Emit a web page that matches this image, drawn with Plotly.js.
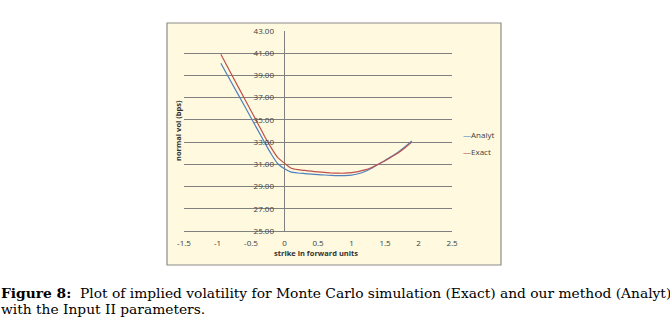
<!DOCTYPE html>
<html><head><meta charset="utf-8">
<script src="https://cdn.plot.ly/plotly-3.0.1.min.js"></script>
<style>html,body{margin:0;padding:0;background:#fff;}#chart{width:670px;height:322px;}</style>
</head><body><div id="chart"></div>
<script>
const strikes = [-0.95,-0.8,-0.6,-0.4,-0.3,-0.2,-0.1,0,0.1,0.2,0.3,0.4,0.5,0.6,0.7,0.8,0.9,1.0,1.1,1.2,1.3,1.4,1.5,1.6,1.7,1.8,1.9];
const analyt = [40.1,38.45,36.3,34.1,33.0,31.95,31.05,30.6,30.3,30.22,30.17,30.12,30.08,30.04,30.0,29.98,29.98,30.03,30.15,30.35,30.65,31.0,31.35,31.73,32.12,32.58,33.1];
const exact  = [40.9,39.2,36.95,34.7,33.55,32.5,31.6,31.1,30.65,30.52,30.45,30.38,30.32,30.27,30.22,30.2,30.2,30.25,30.35,30.5,30.72,31.0,31.32,31.68,32.05,32.5,33.0];
const yTicks = [25,27,29,31,33,35,37,39,41,43];
const xTicks = [-1.5,-1,-0.5,0,0.5,1,1.5,2,2.5];
const seriesNames = ['Analyt','Exact'];
const colors = ['#4F81BD','#C0504D'];

const traces = [
  {x: strikes, y: analyt, name: seriesNames[0], type:'scatter', mode:'lines', line:{color:colors[0], width:1.2, shape:'spline', smoothing:0.6}},
  {x: strikes, y: exact, name: seriesNames[1], type:'scatter', mode:'lines', line:{color:colors[1], width:1.2, shape:'spline', smoothing:0.6}}
];
const tickFont = {family:'Open Sans, sans-serif', size:8, color:'#404040'};
const W = 268, H = 200, L = 184, T = 31;
function px(x){return (x-L)/W;}
function py(y){return (T+H-y)/H;}
const layout = {
  width:670, height:322,
  margin:{l:L, r:670-L-W, t:T, b:322-T-H, pad:0},
  paper_bgcolor:'#ffffff', plot_bgcolor:'rgba(0,0,0,0)',
  showlegend:false,
  xaxis:{range:[-1.5,2.5], tickvals:xTicks, ticktext:xTicks.map(String), showgrid:false,
         zeroline:true, zerolinecolor:'#808080', zerolinewidth:1,
         showline:true, linecolor:'#808080', linewidth:1, ticks:'outside', ticklen:4, tickcolor:'rgba(0,0,0,0)', tickfont:tickFont, fixedrange:true},
  yaxis:{range:[25,43], tickvals:yTicks, ticktext:yTicks.map(v=>v.toFixed(2)), showgrid:true, gridcolor:'#808080', gridwidth:1,
         zeroline:false, showline:false, anchor:'free', position:(285-L)/W, ticks:'', ticklabelstandoff:11, tickfont:tickFont, fixedrange:true},
  shapes:[
    {type:'rect', xref:'paper', yref:'paper', x0:px(167), x1:px(501), y0:py(265), y1:py(23),
     fillcolor:'#FEF9DF', line:{color:'#8c8c8c', width:1.2}, layer:'below'}
  ],
  annotations:[
    {text:'<b>normal vol (bps)</b>', xref:'paper', yref:'paper', x:px(178), y:py(131), textangle:-90, showarrow:false,
     font:{family:'Open Sans, sans-serif', size:7.5, color:'#333'}, xanchor:'center', yanchor:'middle'},
    {text:'<b>strike in forward units</b>', xref:'paper', yref:'paper', x:px(316), y:py(253), showarrow:false,
     font:{family:'Open Sans, sans-serif', size:7.5, color:'#333'}, xanchor:'center', yanchor:'middle'},
    {text:'<span style="color:'+colors[0]+'">—</span>'+seriesNames[0], xref:'paper', yref:'paper', x:px(461), y:py(134), showarrow:false,
     font:{family:'Open Sans, sans-serif', size:8, color:'#404040'}, xanchor:'left', yanchor:'middle'},
    {text:'<span style="color:'+colors[1]+'">—</span>'+seriesNames[1], xref:'paper', yref:'paper', x:px(461), y:py(151), showarrow:false,
     font:{family:'Open Sans, sans-serif', size:8, color:'#404040'}, xanchor:'left', yanchor:'middle'},
    {text:'<b>Figure 8:</b>  Plot of implied volatility for Monte Carlo simulation (Exact) and our method (Analyt)', xref:'paper', yref:'paper',
     x:px(-1), y:py(293), showarrow:false, xanchor:'left', yanchor:'middle', align:'left',
     font:{family:'DejaVu Serif, serif', size:13.8, color:'#000'}},
    {text:'with the Input II parameters.', xref:'paper', yref:'paper',
     x:px(-1), y:py(309), showarrow:false, xanchor:'left', yanchor:'middle', align:'left',
     font:{family:'DejaVu Serif, serif', size:13.8, color:'#000'}}
  ]
};
Plotly.newPlot('chart', traces, layout, {staticPlot:true, displayModeBar:false});
</script></body></html>
